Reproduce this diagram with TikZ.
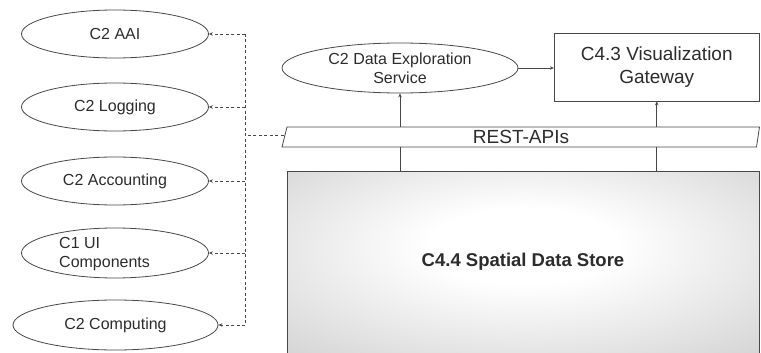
\documentclass[tikz,border=0pt]{standalone}
\usepackage{fontspec}
\setmainfont{Liberation Sans}
\usetikzlibrary{shapes.geometric,arrows.meta}
\definecolor{linec}{HTML}{474747}
\definecolor{textc}{HTML}{2C2C2C}
\pgfdeclareradialshading{storeshade}{\pgfpoint{0bp}{6bp}}{color(0bp)=(white); color(10bp)=(white); color(50bp)=(black!25); color(75bp)=(black!31)}
\begin{document}
\begin{tikzpicture}[x=1pt,y=-1pt,
  svc/.style={ellipse, draw=linec, line width=0.8pt, inner sep=0pt, text=textc,
    font=\fontsize{16}{19}\selectfont, align=center},
  dasharr/.style={draw=linec, line width=0.7pt, dash pattern=on 3pt off 2.5pt,
    -{Stealth[length=4pt,width=3.5pt]}},
  dashln/.style={draw=linec, line width=0.7pt, dash pattern=on 3pt off 2.5pt},
  arr/.style={draw=linec, line width=0.7pt, -{Stealth[length=4pt,width=3.5pt]}},
  ln/.style={draw=linec, line width=0.7pt},
  boxc/.style={rectangle, draw=linec, line width=0.8pt, text=textc, align=center,
    font=\fontsize{19}{23}\selectfont}]
\useasboundingbox (0,0) rectangle (761,353);
\clip (0,0) rectangle (761,353);

% left service ellipses
\node[svc, minimum width=187pt, minimum height=48pt] (aai) at (115,34) {C2 AAI};
\node[svc, minimum width=187pt, minimum height=48pt] (log) at (115,107) {C2 Logging};
\node[svc, minimum width=187pt, minimum height=48pt] (acc) at (115,181) {C2 Accounting};
\node[svc, minimum width=187pt, minimum height=50pt] (ui) at (115,253) {};
\node[text=textc, font=\fontsize{16}{19}\selectfont, align=left, anchor=west, inner sep=0pt] (uitext) at (59,254) {C1 UI\\Components};
\node[svc, minimum width=205pt, minimum height=50pt] (comp) at (115.5,325) {C2 Computing};

% dashed trunk
\coordinate (trunktop) at (245,34);
\coordinate (trunkbot) at (245,325);
\draw[dashln] (trunktop) -- (trunkbot);
\draw[dasharr] (aai.east -| trunktop) -- (aai.east);
\draw[dasharr] (log.east -| trunktop) -- (log.east);
\draw[dasharr] (acc.east -| trunktop) -- (acc.east);
\draw[dasharr] (ui.east -| trunktop) -- (ui.east);
\draw[dasharr] (comp.east -| trunktop) -- (comp.east);

% spatial data store
\node[rectangle, draw=linec, line width=0.8pt, shading=storeshade,
  minimum width=472.5pt, minimum height=190pt, inner sep=0pt] (store) at (523.25,266) {};
\node[text=textc, font=\fontsize{18.5}{22}\selectfont\bfseries] (storetext) at (523,262) {C4.4 Spatial Data Store};

% REST-APIs parallelogram
\draw[linec, line width=0.8pt, fill=white] (282,147) -- (287,127) -- (759.5,127) -- (756.5,147) -- cycle;
\node[text=textc, font=\fontsize{19}{22}\selectfont, minimum width=474pt, minimum height=20pt, inner sep=0pt] (rest) at (521,137) {REST-APIs};
\draw[dashln] (rest.west |- 0,135) -- (trunktop |- 0,135);

% upper services
\node[svc, minimum width=236pt, minimum height=50pt] (dex) at (400,68) {C2 Data Exploration\\Service};
\node[boxc, minimum width=205pt, minimum height=68pt] (vis) at (656.75,67) {C4.3 Visualization\\Gateway};

\draw[arr] (dex.east) -- (dex.east -| vis.west);
\draw[arr] (rest.north -| dex.south) -- (dex.south);
\draw[arr] (rest.north -| vis.south) -- (vis.south);
\draw[ln] (store.north -| dex.south) -- (rest.south -| dex.south);
\draw[ln] (store.north -| vis.south) -- (rest.south -| vis.south);
\end{tikzpicture}
\end{document}
